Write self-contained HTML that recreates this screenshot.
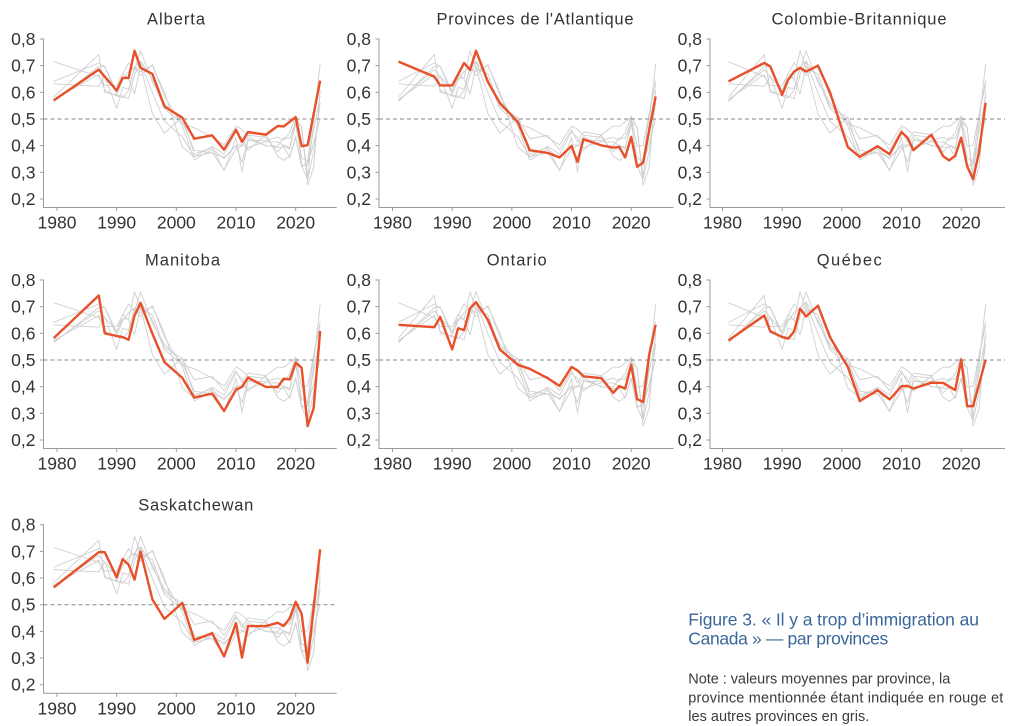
<!DOCTYPE html>
<html>
<head>
<meta charset="utf-8">
<style>
html,body{margin:0;padding:0;background:#fff;}
svg{display:block;}
.t{font-family:"Liberation Sans",sans-serif;font-size:17.5px;fill:#333;}
.yl{text-anchor:end;}
.xl{text-anchor:middle;}
.ti{font-family:"Liberation Sans",sans-serif;font-size:16.5px;fill:#333;text-anchor:middle;}
.ax{stroke:#9b9b9b;stroke-width:1;fill:none;}
.dash{stroke:#8a8a8a;stroke-width:1;stroke-dasharray:4 3;fill:none;}
.g{stroke:#cfcfcf;stroke-width:0.9;fill:none;stroke-linejoin:round;}
.r{stroke:#e8502a;stroke-width:2.4;fill:none;stroke-linejoin:round;}
.fig{font-family:"Liberation Sans",sans-serif;font-size:17.5px;fill:#3b6799;}
.note{font-family:"Liberation Sans",sans-serif;font-size:14.5px;fill:#3a3a3a;}
</style>
</head>
<body>
<svg width="1024" height="726" viewBox="0 0 1024 726" xmlns="http://www.w3.org/2000/svg">
<defs>
<polyline id="A" vector-effect="non-scaling-stroke" points="1,0.570 7,0.685 10,0.607 11,0.654 12,0.654 13,0.756 14,0.692 16,0.669 18,0.547 21,0.505 23,0.426 26,0.439 28,0.385 30,0.460 31,0.414 32,0.451 35,0.441 37,0.474 38,0.472 40,0.507 41,0.398 42,0.402 44.1,0.644"/>
<polyline id="P" vector-effect="non-scaling-stroke" points="1,0.715 7,0.659 8,0.626 10,0.626 12,0.710 13,0.684 14,0.756 16,0.638 18,0.560 21,0.489 23,0.383 26,0.373 28,0.356 30,0.399 31,0.339 32,0.424 35,0.401 37,0.393 38,0.395 39,0.356 40,0.433 41,0.321 42,0.337 44.1,0.585"/>
<polyline id="B" vector-effect="non-scaling-stroke" points="1,0.641 7,0.710 8,0.697 10,0.591 11,0.647 12,0.678 13,0.692 14,0.678 16,0.700 18,0.601 21,0.395 23,0.358 26,0.398 28,0.368 30,0.451 31,0.430 32,0.383 35,0.441 37,0.360 38,0.345 39,0.362 40,0.430 41,0.323 42,0.274 43,0.377 44.1,0.561"/>
<polyline id="M" vector-effect="non-scaling-stroke" points="1,0.582 7,0.742 8,0.600 10,0.590 11,0.586 12,0.576 13,0.667 14,0.714 16,0.598 18,0.492 21,0.433 23,0.359 26,0.374 28,0.309 30,0.389 31,0.399 32,0.434 35,0.399 37,0.399 38,0.430 39,0.427 40,0.490 41,0.471 42,0.252 43,0.318 44.1,0.609"/>
<polyline id="O" vector-effect="non-scaling-stroke" points="1,0.632 7,0.623 8,0.661 10,0.540 11,0.619 12,0.612 13,0.694 14,0.717 16,0.650 18,0.539 21,0.482 23,0.467 26,0.432 28,0.403 30,0.474 31,0.461 32,0.439 35,0.432 37,0.377 38,0.402 39,0.393 40,0.482 41,0.353 42,0.343 43,0.518 44.1,0.632"/>
<polyline id="Q" vector-effect="non-scaling-stroke" points="1,0.573 7,0.667 8,0.608 10,0.586 11,0.580 12,0.607 13,0.692 14,0.663 16,0.704 18,0.586 21,0.474 23,0.346 26,0.387 28,0.352 30,0.402 31,0.403 32,0.393 35,0.415 37,0.414 39,0.387 40,0.501 41,0.327 42,0.327 44.1,0.501"/>
<polyline id="S" vector-effect="non-scaling-stroke" points="1,0.565 7,0.697 8,0.697 10,0.603 11,0.671 12,0.650 13,0.594 14,0.699 16,0.519 18,0.447 21,0.507 23,0.368 26,0.393 28,0.306 30,0.431 31,0.302 32,0.420 35,0.420 37,0.432 38,0.420 39,0.449 40,0.511 41,0.466 42,0.283 44.1,0.708"/>
<polyline id="AL" vector-effect="non-scaling-stroke" points="-0.55,0.570 7,0.685 10,0.607 11,0.654 12,0.654 13,0.756 14,0.692 16,0.669 18,0.547 21,0.505 23,0.426 26,0.439 28,0.385 30,0.460 31,0.414 32,0.451 35,0.441 37,0.474 38,0.472 40,0.507 41,0.398 42,0.402 44.1,0.644"/>
<polyline id="PL" vector-effect="non-scaling-stroke" points="-0.55,0.715 7,0.659 8,0.626 10,0.626 12,0.710 13,0.684 14,0.756 16,0.638 18,0.560 21,0.489 23,0.383 26,0.373 28,0.356 30,0.399 31,0.339 32,0.424 35,0.401 37,0.393 38,0.395 39,0.356 40,0.433 41,0.321 42,0.337 44.1,0.585"/>
<polyline id="BL" vector-effect="non-scaling-stroke" points="-0.55,0.641 7,0.710 8,0.697 10,0.591 11,0.647 12,0.678 13,0.692 14,0.678 16,0.700 18,0.601 21,0.395 23,0.358 26,0.398 28,0.368 30,0.451 31,0.430 32,0.383 35,0.441 37,0.360 38,0.345 39,0.362 40,0.430 41,0.323 42,0.274 43,0.377 44.1,0.561"/>
<polyline id="ML" vector-effect="non-scaling-stroke" points="-0.55,0.582 7,0.742 8,0.600 10,0.590 11,0.586 12,0.576 13,0.667 14,0.714 16,0.598 18,0.492 21,0.433 23,0.359 26,0.374 28,0.309 30,0.389 31,0.399 32,0.434 35,0.399 37,0.399 38,0.430 39,0.427 40,0.490 41,0.471 42,0.252 43,0.318 44.1,0.609"/>
<polyline id="OL" vector-effect="non-scaling-stroke" points="-0.55,0.632 7,0.623 8,0.661 10,0.540 11,0.619 12,0.612 13,0.694 14,0.717 16,0.650 18,0.539 21,0.482 23,0.467 26,0.432 28,0.403 30,0.474 31,0.461 32,0.439 35,0.432 37,0.377 38,0.402 39,0.393 40,0.482 41,0.353 42,0.343 43,0.518 44.1,0.632"/>
<polyline id="QL" vector-effect="non-scaling-stroke" points="-0.55,0.573 7,0.667 8,0.608 10,0.586 11,0.580 12,0.607 13,0.692 14,0.663 16,0.704 18,0.586 21,0.474 23,0.346 26,0.387 28,0.352 30,0.402 31,0.403 32,0.393 35,0.415 37,0.414 39,0.387 40,0.501 41,0.327 42,0.327 44.1,0.501"/>
<polyline id="SL" vector-effect="non-scaling-stroke" points="-0.55,0.565 7,0.697 8,0.697 10,0.603 11,0.671 12,0.650 13,0.594 14,0.699 16,0.519 18,0.447 21,0.507 23,0.368 26,0.393 28,0.306 30,0.431 31,0.302 32,0.420 35,0.420 37,0.432 38,0.420 39,0.449 40,0.511 41,0.466 42,0.283 44.1,0.708"/>
</defs>

<text class="ti" x="176" y="24.5" textLength="58">Alberta</text>
<path class="ax" d="M43.5 38.5V207.5H336.7 M40 39H43.5 M40 65.67H43.5 M40 92.33H43.5 M40 119H43.5 M40 145.67H43.5 M40 172.33H43.5 M40 199H43.5 M57 207.5V211 M116.67 207.5V211 M176.33 207.5V211 M236 207.5V211 M295.67 207.5V211"/>
<g class="t yl">
<text x="35.5" y="45">0,8</text><text x="35.5" y="71.7">0,7</text><text x="35.5" y="98.3">0,6</text><text x="35.5" y="125">0,5</text><text x="35.5" y="151.7">0,4</text><text x="35.5" y="178.3">0,3</text><text x="35.5" y="205">0,2</text>
</g>
<g class="t xl">
<text x="57" y="228.5">1980</text><text x="116.67" y="228.5">1990</text><text x="176.33" y="228.5">2000</text><text x="236" y="228.5">2010</text><text x="295.67" y="228.5">2020</text>
</g>
<g transform="translate(57,252.36) scale(5.967,-266.7)">
<use href="#PL" class="g"/><use href="#BL" class="g"/><use href="#ML" class="g"/><use href="#OL" class="g"/><use href="#QL" class="g"/><use href="#SL" class="g"/>
</g>
<path class="dash" d="M43.5 119H336.7"/>
<g transform="translate(57,252.36) scale(5.967,-266.7)"><use href="#AL" class="r"/></g>

<text class="ti" x="535" y="24.5" textLength="197">Provinces de l'Atlantique</text>
<path class="ax" d="M379 38.5V207.5H673.5 M375.5 39H379 M375.5 65.67H379 M375.5 92.33H379 M375.5 119H379 M375.5 145.67H379 M375.5 172.33H379 M375.5 199H379 M392.5 207.5V211 M452.17 207.5V211 M511.83 207.5V211 M571.5 207.5V211 M631.17 207.5V211"/>
<g class="t yl">
<text x="371" y="45">0,8</text><text x="371" y="71.7">0,7</text><text x="371" y="98.3">0,6</text><text x="371" y="125">0,5</text><text x="371" y="151.7">0,4</text><text x="371" y="178.3">0,3</text><text x="371" y="205">0,2</text>
</g>
<g class="t xl">
<text x="392.5" y="228.5">1980</text><text x="452.17" y="228.5">1990</text><text x="511.83" y="228.5">2000</text><text x="571.5" y="228.5">2010</text><text x="631.17" y="228.5">2020</text>
</g>
<g transform="translate(392.5,252.36) scale(5.967,-266.7)">
<use href="#A" class="g"/><use href="#B" class="g"/><use href="#M" class="g"/><use href="#O" class="g"/><use href="#Q" class="g"/><use href="#S" class="g"/>
</g>
<path class="dash" d="M379 119H673.5"/>
<g transform="translate(392.5,252.36) scale(5.967,-266.7)"><use href="#P" class="r"/></g>

<text class="ti" x="859" y="24.5" textLength="175">Colombie-Britannique</text>
<path class="ax" d="M710 38.5V207.5H1005 M706.5 39H710 M706.5 65.67H710 M706.5 92.33H710 M706.5 119H710 M706.5 145.67H710 M706.5 172.33H710 M706.5 199H710 M722.5 207.5V211 M782.17 207.5V211 M841.83 207.5V211 M901.5 207.5V211 M961.17 207.5V211"/>
<g class="t yl">
<text x="702" y="45">0,8</text><text x="702" y="71.7">0,7</text><text x="702" y="98.3">0,6</text><text x="702" y="125">0,5</text><text x="702" y="151.7">0,4</text><text x="702" y="178.3">0,3</text><text x="702" y="205">0,2</text>
</g>
<g class="t xl">
<text x="722.5" y="228.5">1980</text><text x="782.17" y="228.5">1990</text><text x="841.83" y="228.5">2000</text><text x="901.5" y="228.5">2010</text><text x="961.17" y="228.5">2020</text>
</g>
<g transform="translate(722.5,252.36) scale(5.967,-266.7)">
<use href="#A" class="g"/><use href="#P" class="g"/><use href="#M" class="g"/><use href="#O" class="g"/><use href="#Q" class="g"/><use href="#S" class="g"/>
</g>
<path class="dash" d="M710 119H1005"/>
<g transform="translate(722.5,252.36) scale(5.967,-266.7)"><use href="#B" class="r"/></g>

<text class="ti" x="182.5" y="265.5" textLength="75">Manitoba</text>
<path class="ax" d="M43.5 279.5V448.5H336.7 M40 280H43.5 M40 306.67H43.5 M40 333.33H43.5 M40 360H43.5 M40 386.67H43.5 M40 413.33H43.5 M40 440H43.5 M57 448.5V452 M116.67 448.5V452 M176.33 448.5V452 M236 448.5V452 M295.67 448.5V452"/>
<g class="t yl">
<text x="35.5" y="286">0,8</text><text x="35.5" y="312.7">0,7</text><text x="35.5" y="339.3">0,6</text><text x="35.5" y="366">0,5</text><text x="35.5" y="392.7">0,4</text><text x="35.5" y="419.3">0,3</text><text x="35.5" y="446">0,2</text>
</g>
<g class="t xl">
<text x="57" y="469.5">1980</text><text x="116.67" y="469.5">1990</text><text x="176.33" y="469.5">2000</text><text x="236" y="469.5">2010</text><text x="295.67" y="469.5">2020</text>
</g>
<g transform="translate(57,493.36) scale(5.967,-266.7)">
<use href="#AL" class="g"/><use href="#PL" class="g"/><use href="#BL" class="g"/><use href="#OL" class="g"/><use href="#QL" class="g"/><use href="#SL" class="g"/>
</g>
<path class="dash" d="M43.5 360H336.7"/>
<g transform="translate(57,493.36) scale(5.967,-266.7)"><use href="#ML" class="r"/></g>

<text class="ti" x="516.7" y="265.5" textLength="60">Ontario</text>
<path class="ax" d="M379 279.5V448.5H673.5 M375.5 280H379 M375.5 306.67H379 M375.5 333.33H379 M375.5 360H379 M375.5 386.67H379 M375.5 413.33H379 M375.5 440H379 M392.5 448.5V452 M452.17 448.5V452 M511.83 448.5V452 M571.5 448.5V452 M631.17 448.5V452"/>
<g class="t yl">
<text x="371" y="286">0,8</text><text x="371" y="312.7">0,7</text><text x="371" y="339.3">0,6</text><text x="371" y="366">0,5</text><text x="371" y="392.7">0,4</text><text x="371" y="419.3">0,3</text><text x="371" y="446">0,2</text>
</g>
<g class="t xl">
<text x="392.5" y="469.5">1980</text><text x="452.17" y="469.5">1990</text><text x="511.83" y="469.5">2000</text><text x="571.5" y="469.5">2010</text><text x="631.17" y="469.5">2020</text>
</g>
<g transform="translate(392.5,493.36) scale(5.967,-266.7)">
<use href="#A" class="g"/><use href="#P" class="g"/><use href="#B" class="g"/><use href="#M" class="g"/><use href="#Q" class="g"/><use href="#S" class="g"/>
</g>
<path class="dash" d="M379 360H673.5"/>
<g transform="translate(392.5,493.36) scale(5.967,-266.7)"><use href="#O" class="r"/></g>

<text class="ti" x="849.2" y="265.5" textLength="65">Québec</text>
<path class="ax" d="M710 279.5V448.5H1005 M706.5 280H710 M706.5 306.67H710 M706.5 333.33H710 M706.5 360H710 M706.5 386.67H710 M706.5 413.33H710 M706.5 440H710 M722.5 448.5V452 M782.17 448.5V452 M841.83 448.5V452 M901.5 448.5V452 M961.17 448.5V452"/>
<g class="t yl">
<text x="702" y="286">0,8</text><text x="702" y="312.7">0,7</text><text x="702" y="339.3">0,6</text><text x="702" y="366">0,5</text><text x="702" y="392.7">0,4</text><text x="702" y="419.3">0,3</text><text x="702" y="446">0,2</text>
</g>
<g class="t xl">
<text x="722.5" y="469.5">1980</text><text x="782.17" y="469.5">1990</text><text x="841.83" y="469.5">2000</text><text x="901.5" y="469.5">2010</text><text x="961.17" y="469.5">2020</text>
</g>
<g transform="translate(722.5,493.36) scale(5.967,-266.7)">
<use href="#A" class="g"/><use href="#P" class="g"/><use href="#B" class="g"/><use href="#M" class="g"/><use href="#O" class="g"/><use href="#S" class="g"/>
</g>
<path class="dash" d="M710 360H1005"/>
<g transform="translate(722.5,493.36) scale(5.967,-266.7)"><use href="#Q" class="r"/></g>

<text class="ti" x="195.8" y="510.3" textLength="115">Saskatchewan</text>
<path class="ax" d="M43.5 524.2V693.3H336.7 M40 524.7H43.5 M40 551.4H43.5 M40 578H43.5 M40 604.7H43.5 M40 631.4H43.5 M40 658H43.5 M40 684.7H43.5 M57 693.3V696.8 M116.67 693.3V696.8 M176.33 693.3V696.8 M236 693.3V696.8 M295.67 693.3V696.8"/>
<g class="t yl">
<text x="35.5" y="530.7">0,8</text><text x="35.5" y="557.4">0,7</text><text x="35.5" y="584">0,6</text><text x="35.5" y="610.7">0,5</text><text x="35.5" y="637.4">0,4</text><text x="35.5" y="664">0,3</text><text x="35.5" y="690.7">0,2</text>
</g>
<g class="t xl">
<text x="57" y="714.3">1980</text><text x="116.67" y="714.3">1990</text><text x="176.33" y="714.3">2000</text><text x="236" y="714.3">2010</text><text x="295.67" y="714.3">2020</text>
</g>
<g transform="translate(57,738.06) scale(5.967,-266.7)">
<use href="#AL" class="g"/><use href="#PL" class="g"/><use href="#BL" class="g"/><use href="#ML" class="g"/><use href="#OL" class="g"/><use href="#QL" class="g"/>
</g>
<path class="dash" d="M43.5 604.7H336.7"/>
<g transform="translate(57,738.06) scale(5.967,-266.7)"><use href="#SL" class="r"/></g>

<text class="fig" x="688.3" y="625.5" textLength="290.7">Figure 3. « Il y a trop d’immigration au</text>
<text class="fig" x="688.3" y="644.5" textLength="200">Canada » — par provinces</text>
<text class="note" x="688.3" y="683.5" textLength="262">Note : valeurs moyennes par province, la</text>
<text class="note" x="688.3" y="702.3" textLength="315">province mentionnée étant indiquée en rouge et</text>
<text class="note" x="688.3" y="721" textLength="181">les autres provinces en gris.</text>
</svg>
</body>
</html>
